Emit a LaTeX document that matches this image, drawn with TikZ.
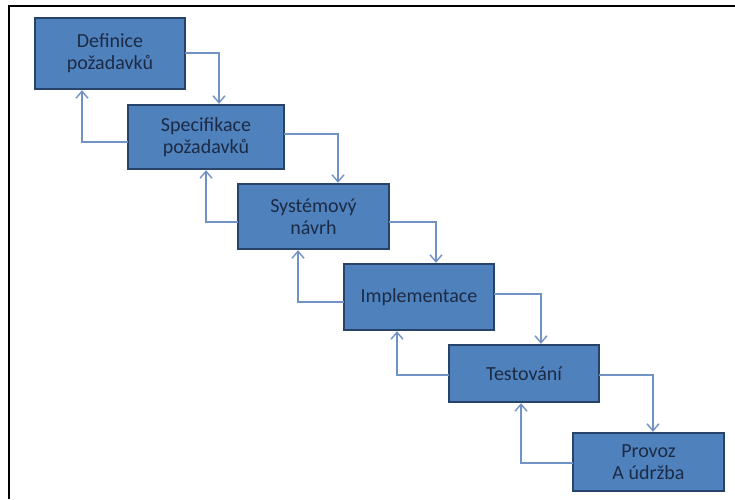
\documentclass[tikz,border=0pt]{standalone}
\usepackage{fontspec}
\setmainfont{Carlito}
\usetikzlibrary{arrows.meta}
\definecolor{boxfill}{HTML}{4F81BD}
\definecolor{boxline}{HTML}{27436A}
\definecolor{boxtext}{HTML}{1C2B45}
\definecolor{linkline}{HTML}{7092C4}
\begin{document}
\begin{tikzpicture}[x=1pt,y=-1pt,
  stage/.style={draw=boxline, fill=boxfill, line width=2.4pt, text=boxtext,
    align=center, inner sep=0pt, outer sep=0pt,
    font=\fontsize{20}{22}\selectfont},
  link/.style={draw=linkline, line width=1.4pt,
    -{Straight Barb[length=7pt,width=12pt,line width=1.4pt]}, shorten >=1.2pt}
]
\useasboundingbox (0,0) rectangle (735,499);
% open frame: top and left edges only
\draw[line width=2pt, black] (9,499) -- (9,6) -- (735,6);

% process stages
\node[stage, minimum width=150pt, minimum height=71pt] (b1) at (110,53.5) {Definice\\požadavků};
\node[stage, minimum width=156pt, minimum height=64pt] (b2) at (206,137) {Specifikace\\požadavků};
\node[stage, minimum width=151pt, minimum height=65pt] (b3) at (313.5,216.5) {Systémový\\návrh};
\node[stage, minimum width=150pt, minimum height=66pt] (b4) at (419,297) {Implementace};
\node[stage, minimum width=150pt, minimum height=57pt] (b5) at (524,373.5) {Testování};
\node[stage, minimum width=151pt, minimum height=58pt] (b6) at (648.5,462) {Provoz\\A údržba};

% forward flow
\draw[link] ([yshift=-35pt]b1.north east) -| ([xshift=91pt]b2.north west);
\draw[link] ([yshift=-29pt]b2.north east) -| ([xshift=100pt]b3.north west);
\draw[link] ([yshift=-38pt]b3.north east) -| ([xshift=92pt]b4.north west);
\draw[link] ([yshift=-30pt]b4.north east) -| ([xshift=92pt]b5.north west);
\draw[link] ([yshift=-30pt]b5.north east) -| ([xshift=80pt]b6.north west);

% feedback
\draw[link] ([yshift=-37pt]b2.north west) -| ([xshift=47pt]b1.south west);
\draw[link] ([yshift=-38pt]b3.north west) -| ([xshift=78pt]b2.south west);
\draw[link] ([yshift=-38pt]b4.north west) -| ([xshift=60pt]b3.south west);
\draw[link] ([yshift=-30pt]b5.north west) -| ([xshift=53pt]b4.south west);
\draw[link] ([yshift=-30pt]b6.north west) -| ([xshift=72pt]b5.south west);
\end{tikzpicture}
\end{document}
